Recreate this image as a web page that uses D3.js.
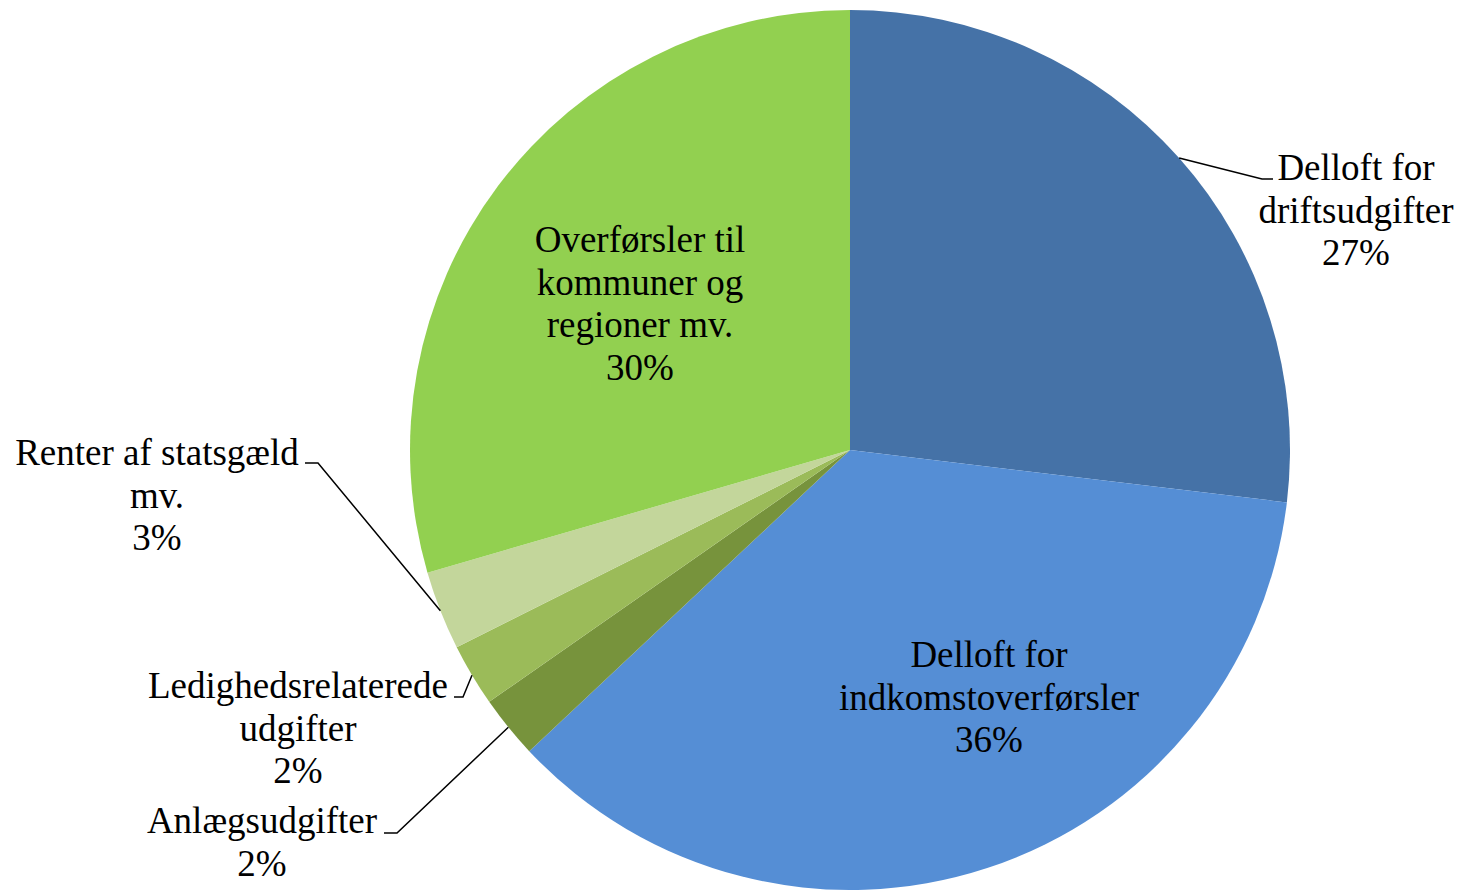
<!DOCTYPE html>
<html><head><meta charset="utf-8">
<script src="https://cdn.jsdelivr.net/npm/d3@7"></script>
<style>html,body{margin:0;padding:0;background:#fff;}svg{display:block;}</style>
</head><body>
<svg id="chart" width="1461" height="890"></svg>
<script>
// Data
const categories = ["Delloft for driftsudgifter", "Delloft for indkomstoverførsler", "Anlægsudgifter", "Ledighedsrelaterede udgifter", "Renter af statsgæld mv.", "Overførsler til kommuner og regioner mv."];
const values = [26.9, 36.1, 2.3, 2.3, 2.9, 29.5];
const percentLabels = ["27%", "36%", "2%", "2%", "3%", "30%"];
const labelLines = [
  ["Delloft for", "driftsudgifter"],
  ["Delloft for", "indkomstoverførsler"],
  ["Anlægsudgifter"],
  ["Ledighedsrelaterede", "udgifter"],
  ["Renter af statsgæld", "mv."],
  ["Overførsler til", "kommuner og", "regioner mv."]
];
const colors = ["#4572A7", "#558ED5", "#77933C", "#9BBB59", "#C3D69B", "#92D050"];

// Layout (label placement, not data)
const labelLayout = [
  {x: 1356, y: 180, leader: true, elbow: [1262, 179], end: [1273, 179]},
  {x: 989, y: 667, leader: false},
  {x: 262, y: 833, leader: true, elbow: [397, 833], end: [384, 833]},
  {x: 298, y: 698, leader: true, elbow: [463, 697], end: [454, 697]},
  {x: 157, y: 465, leader: true, elbow: [318, 463], end: [305, 463]},
  {x: 640, y: 252, leader: false}
];

const svg = d3.select("#chart");
const cx = 850, cy = 450, R = 440;
const lineH = 42.7;
const g = svg.append("g").attr("transform", `translate(${cx},${cy})`);

const data = categories.map((c, i) => ({name: c, value: values[i], i}));
const pie = d3.pie().value(d => d.value).sort(null);
const arcs = pie(data);
const arc = d3.arc().innerRadius(0).outerRadius(R);

g.selectAll("path.slice").data(arcs).join("path")
  .attr("class", "slice")
  .attr("d", arc)
  .attr("fill", d => colors[d.data.i]);

// Leader lines
arcs.forEach(a => {
  const L = labelLayout[a.data.i];
  if (!L.leader) return;
  const mid = (a.startAngle + a.endAngle) / 2;
  const sx = cx + R * Math.sin(mid), sy = cy - R * Math.cos(mid);
  svg.append("polyline")
    .attr("points", [[sx, sy], L.elbow, L.end].map(p => p.join(",")).join(" "))
    .attr("fill", "none").attr("stroke", "#000").attr("stroke-width", 1.5);
});

// Labels
arcs.forEach(a => {
  const i = a.data.i;
  const L = labelLayout[i];
  const lines = labelLines[i].concat([percentLabels[i]]);
  const t = svg.append("text")
    .attr("x", L.x).attr("y", L.y)
    .attr("text-anchor", "middle")
    .attr("font-family", "'Liberation Serif', 'Times New Roman', serif")
    .attr("font-size", 37)
    .attr("fill", "#000");
  lines.forEach((ln, k) => {
    t.append("tspan").attr("x", L.x).attr("y", L.y + k * lineH).text(ln);
  });
});
</script>
</body></html>
